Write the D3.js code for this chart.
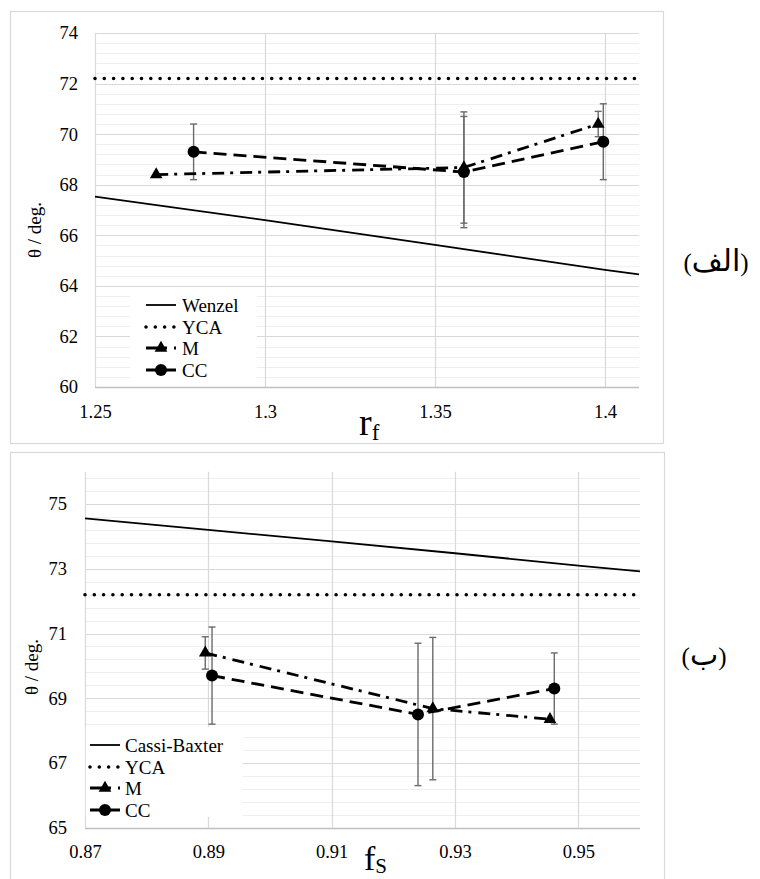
<!DOCTYPE html>
<html>
<head>
<meta charset="utf-8">
<script src="https://cdn.jsdelivr.net/npm/d3@7"></script>
<style>
  html, body { margin: 0; padding: 0; background: #fff; }
  svg { display: block; }
  svg text { font-family: "Liberation Serif", "Times New Roman", Times, "DejaVu Serif", serif; fill: #000; }
</style>
</head>
<body>
<svg id="chart" width="760" height="879"></svg>
<script>
// ---------- Panel A (الف): theta vs r_f ----------
const aXTicks = [1.25, 1.3, 1.35, 1.4];
const aYTicks = [60, 62, 64, 66, 68, 70, 72, 74];
const aXDomain = [1.25, 1.41];
const aYDomain = [60, 74];
const wenzelX = [1.25, 1.30, 1.35, 1.40, 1.41];
const wenzelY = [67.53, 66.60, 65.62, 64.63, 64.45];
const ycaValue = 72.2;
const aMX = [1.268, 1.3585, 1.398];
const aMY = [68.4, 68.68, 70.4];
const aMErr = [0, 2.2, 0.5];
const aCCX = [1.279, 1.3585, 1.3995];
const aCCY = [69.3, 68.5, 69.7];
const aCCErr = [1.1, 2.2, 1.5];
const aLegend = ["Wenzel", "YCA", "M", "CC"];
const aPanelLabel = "الف";
const aXTitle = ["r", "f"];

// ---------- Panel B (ب): theta vs f_S ----------
const bXTicks = [0.87, 0.89, 0.91, 0.93, 0.95];
const bYTicks = [65, 67, 69, 71, 73, 75];
const bXDomain = [0.87, 0.96];
const bYDomain = [65, 76];
const cassieX = [0.87, 0.89, 0.91, 0.93, 0.95, 0.96];
const cassieY = [74.56, 74.20, 73.85, 73.48, 73.10, 72.92];
const bMX = [0.8895, 0.9264, 0.9454];
const bMY = [70.4, 68.68, 68.35];
const bMErr = [0.5, 2.2, 0];
const bCCX = [0.8906, 0.924, 0.9461];
const bCCY = [69.7, 68.5, 69.3];
const bCCErr = [1.5, 2.2, 1.1];
const bLegend = ["Cassi-Baxter", "YCA", "M", "CC"];
const bPanelLabel = "ب";
const bXTitle = ["f", "S"];

const yTitle = "θ / deg.";

const SERIF = "'Liberation Serif', 'Times New Roman', Times, 'DejaVu Serif', serif";
const svg = d3.select("#chart");

const STYLE = {
  model: { dash: null, width: 1.8 },
  yca: { dash: "0 9.3", width: 3.6, cap: "round" },
  m: { dash: "12 6 3 7", width: 2.8 },
  cc: { dash: "13 7", width: 2.8 }
};

function drawPanel(cfg) {
  const g = svg.append("g").attr("font-family", SERIF);
  g.append("rect")
    .attr("x", cfg.frame[0]).attr("y", cfg.frame[1])
    .attr("width", cfg.frame[2]).attr("height", cfg.frame[3])
    .attr("fill", "#fff").attr("stroke", "#d9d9d9").attr("stroke-width", 1.2);

  const x = d3.scaleLinear().domain(cfg.xDomain).range([cfg.plot[0], cfg.plot[1]]);
  const y = d3.scaleLinear().domain(cfg.yDomain).range([cfg.plot[3], cfg.plot[2]]);

  const minor = d3.range(cfg.yDomain[0], cfg.yDomain[1] - 1e-6, 0.4).filter(v => v > cfg.yDomain[0] + 1e-6);
  g.append("g").selectAll("line").data(minor).join("line")
    .attr("x1", cfg.plot[0]).attr("x2", cfg.plot[1])
    .attr("y1", d => Math.round(y(d)) + 0.5).attr("y2", d => Math.round(y(d)) + 0.5)
    .attr("stroke", "#efefef").attr("stroke-width", 1);
  g.append("g").selectAll("line").data(cfg.yTicks.filter(v => v > cfg.yDomain[0])).join("line")
    .attr("x1", cfg.plot[0]).attr("x2", cfg.plot[1])
    .attr("y1", d => Math.round(y(d)) + 0.5).attr("y2", d => Math.round(y(d)) + 0.5)
    .attr("stroke", "#d9d9d9").attr("stroke-width", 1.2);
  g.append("g").selectAll("line").data(cfg.xTicks).join("line")
    .attr("x1", d => Math.round(x(d)) + 0.5).attr("x2", d => Math.round(x(d)) + 0.5)
    .attr("y1", cfg.plot[2]).attr("y2", cfg.plot[3])
    .attr("stroke", "#d9d9d9").attr("stroke-width", 1.2);
  g.append("line")
    .attr("x1", cfg.plot[0]).attr("x2", cfg.plot[1])
    .attr("y1", Math.round(cfg.plot[3]) + 0.5).attr("y2", Math.round(cfg.plot[3]) + 0.5)
    .attr("stroke", "#bfbfbf").attr("stroke-width", 1.5);

  const yAxis = d3.axisLeft(y).tickValues(cfg.yTicks).tickSize(0).tickPadding(cfg.yPad).tickFormat(d3.format("d"));
  const ya = g.append("g").attr("transform", `translate(${cfg.plot[0]},0)`).call(yAxis);
  ya.attr("font-family", SERIF).attr("font-size", 18.5);
  ya.select(".domain").remove();
  ya.selectAll("text").attr("fill", "#000");

  const xAxis = d3.axisBottom(x).tickValues(cfg.xTicks).tickSize(0).tickPadding(cfg.xPad).tickFormat(d => String(+d.toFixed(2)));
  const xa = g.append("g").attr("transform", `translate(0,${cfg.plot[3]})`).call(xAxis);
  xa.attr("font-family", SERIF).attr("font-size", 18.5);
  xa.select(".domain").remove();
  xa.selectAll("text").attr("fill", "#000");

  g.append("path")
    .datum(cfg.xDomain)
    .attr("d", d3.line().x(d => x(d)).y(() => y(ycaValue)))
    .attr("fill", "none").attr("stroke", "#000")
    .attr("stroke-width", STYLE.yca.width).attr("stroke-dasharray", STYLE.yca.dash)
    .attr("stroke-linecap", "round");

  const modelPts = cfg.modelX.map((v, i) => [v, cfg.modelY[i]]);
  g.append("path").datum(modelPts)
    .attr("d", d3.line().x(d => x(d[0])).y(d => y(d[1])))
    .attr("fill", "none").attr("stroke", "#000").attr("stroke-width", STYLE.model.width);

  const mPts = cfg.mX.map((v, i) => ({ x: v, y: cfg.mY[i], e: cfg.mErr[i] }));
  const ccPts = cfg.ccX.map((v, i) => ({ x: v, y: cfg.ccY[i], e: cfg.ccErr[i] }));

  function errBars(pts) {
    const eg = g.append("g").attr("stroke", "#6b6b6b").attr("stroke-width", 1.4);
    pts.filter(p => p.e > 0).forEach(p => {
      const cx = x(p.x);
      eg.append("line").attr("x1", cx).attr("x2", cx).attr("y1", y(p.y + p.e)).attr("y2", y(p.y - p.e));
      [p.y + p.e, p.y - p.e].forEach(v => {
        eg.append("line").attr("x1", cx - 3.5).attr("x2", cx + 3.5).attr("y1", y(v)).attr("y2", y(v));
      });
    });
  }
  errBars(mPts);
  errBars(ccPts);

  g.append("path").datum(mPts)
    .attr("d", d3.line().x(d => x(d.x)).y(d => y(d.y)))
    .attr("fill", "none").attr("stroke", "#000").attr("stroke-width", STYLE.m.width)
    .attr("stroke-dasharray", STYLE.m.dash);
  g.append("path").datum(ccPts)
    .attr("d", d3.line().x(d => x(d.x)).y(d => y(d.y)))
    .attr("fill", "none").attr("stroke", "#000").attr("stroke-width", STYLE.cc.width)
    .attr("stroke-dasharray", STYLE.cc.dash);

  const tri = d3.symbol().type(d3.symbolTriangle).size(70);
  g.append("g").selectAll("path").data(mPts).join("path")
    .attr("d", tri).attr("transform", d => `translate(${x(d.x)},${y(d.y)})`).attr("fill", "#000");
  g.append("g").selectAll("circle").data(ccPts).join("circle")
    .attr("cx", d => x(d.x)).attr("cy", d => y(d.y)).attr("r", 6).attr("fill", "#000");

  const L = cfg.legend;
  g.append("rect").attr("x", L.box[0]).attr("y", L.box[1]).attr("width", L.box[2]).attr("height", L.box[3]).attr("fill", "#fff");
  const styles = [STYLE.model, STYLE.yca, STYLE.m, STYLE.cc];
  cfg.legendLabels.forEach((lab, i) => {
    const ry = L.rows[i];
    const s = styles[i];
    const ln = g.append("line").attr("x1", L.sx[0]).attr("x2", L.sx[1]).attr("y1", ry).attr("y2", ry)
      .attr("stroke", "#000").attr("stroke-width", s.width);
    if (s.dash) ln.attr("stroke-dasharray", s.dash);
    if (s.cap) ln.attr("stroke-linecap", s.cap);
    const mx = (L.sx[0] + L.sx[1]) / 2;
    if (i === 2) g.append("path").attr("d", tri).attr("transform", `translate(${mx},${ry})`).attr("fill", "#000");
    if (i === 3) g.append("circle").attr("cx", mx).attr("cy", ry).attr("r", 6).attr("fill", "#000");
    g.append("text").attr("x", L.tx).attr("y", ry).attr("dy", "0.35em")
      .attr("font-family", SERIF).attr("font-size", 19).text(lab);
  });

  g.append("text")
    .attr("transform", `translate(${cfg.yTitlePos[0]},${cfg.yTitlePos[1]}) rotate(-90)`)
    .attr("text-anchor", "middle").attr("dy", "0.35em")
    .attr("font-family", SERIF).attr("font-size", 19).text(yTitle);

  const xt = g.append("text").attr("x", cfg.xTitlePos[0]).attr("y", cfg.xTitlePos[1]).attr("font-family", SERIF);
  xt.append("tspan").attr("font-size", cfg.xTitleSize[0]).text(cfg.xTitle[0]);
  xt.append("tspan").attr("dy", cfg.xTitleSub).attr("font-size", cfg.xTitleSize[1]).text(cfg.xTitle[1]);

  // Persian panel label: "(" + Arabic-script word + ")"
  const pl = g.append("text").attr("x", cfg.labelPos[0]).attr("y", cfg.labelPos[1])
    .attr("text-anchor", "middle").attr("font-family", SERIF);
  pl.append("tspan").attr("font-size", 25).text("(");
  pl.append("tspan").attr("font-size", 30).attr("font-family", "'DejaVu Sans', sans-serif").text(cfg.label);
  pl.append("tspan").attr("font-size", 25).text(")");
}

drawPanel({
  frame: [10.5, 11.5, 653, 432],
  plot: [95, 639, 33, 387],
  xDomain: aXDomain, yDomain: aYDomain, xTicks: aXTicks, yTicks: aYTicks,
  yPad: 17, xPad: 18,
  modelX: wenzelX, modelY: wenzelY,
  mX: aMX, mY: aMY, mErr: aMErr, ccX: aCCX, ccY: aCCY, ccErr: aCCErr,
  legendLabels: aLegend,
  legend: { box: [130, 293, 127, 89], sx: [146, 176], tx: 182, rows: [305, 327, 348, 370] },
  yTitlePos: [34, 230],
  xTitle: aXTitle, xTitlePos: [359, 435], xTitleSize: [38, 23], xTitleSub: 5,
  label: aPanelLabel, labelPos: [716, 271]
});

drawPanel({
  frame: [10.5, 452.5, 654, 440],
  plot: [85, 640, 471.7, 827.7],
  xDomain: bXDomain, yDomain: bYDomain, xTicks: bXTicks, yTicks: bYTicks,
  yPad: 18, xPad: 17.5,
  modelX: cassieX, modelY: cassieY,
  mX: bMX, mY: bMY, mErr: bMErr, ccX: bCCX, ccY: bCCY, ccErr: bCCErr,
  legendLabels: bLegend,
  legend: { box: [85.8, 727, 157, 90], sx: [90, 120], tx: 125, rows: [745, 767, 788, 810] },
  yTitlePos: [31, 667],
  xTitle: bXTitle, xTitlePos: [364, 870], xTitleSize: [34, 21], xTitleSub: 3,
  label: bPanelLabel, labelPos: [704, 665]
});
</script>
</body>
</html>
